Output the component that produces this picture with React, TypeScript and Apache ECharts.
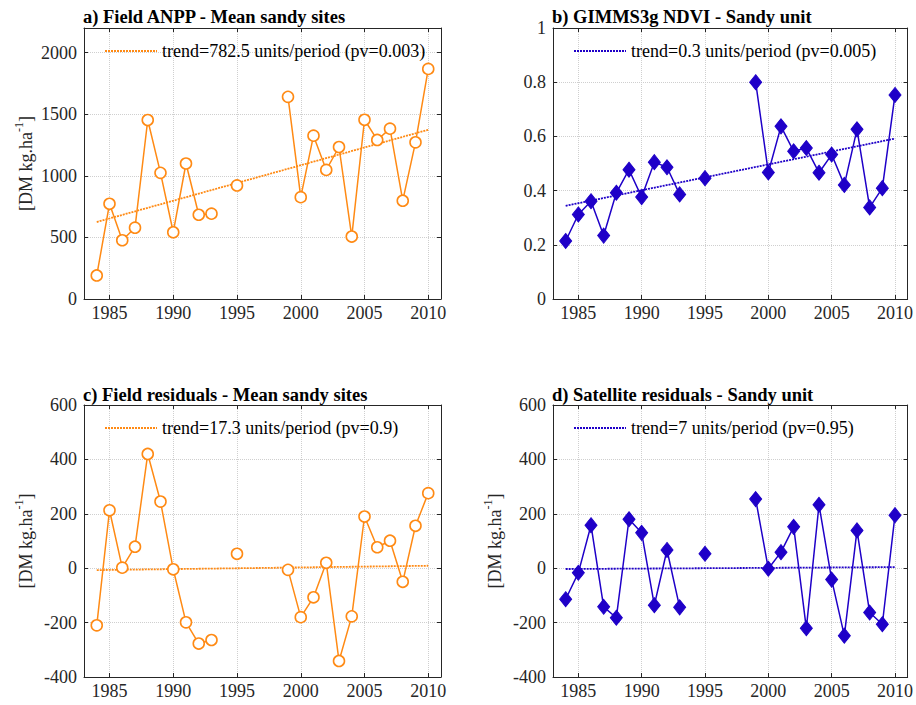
import React, { useEffect, useRef } from "react";
import * as echarts from "echarts";

const years = [1984, 1985, 1986, 1987, 1988, 1989, 1990, 1991, 1992, 1993, 1994, 1995, 1996, 1997, 1998, 1999, 2000, 2001, 2002, 2003, 2004, 2005, 2006, 2007, 2008, 2009, 2010];

const fieldAnpp = [191, 773, 477, 579, 1453, 1024, 542, 1100, 684, 693, null, 922, null, null, null, 1641, 827, 1326, 1048, 1234, 507, 1455, 1291, 1383, 798, 1272, 1868];
const gimmsNdvi = [0.214, 0.312, 0.361, 0.234, 0.392, 0.477, 0.376, 0.505, 0.486, 0.386, null, 0.446, null, null, null, 0.8, 0.467, 0.637, 0.545, 0.557, 0.466, 0.533, 0.421, 0.626, 0.338, 0.409, 0.753];
const fieldResiduals = [-210, 213, 2, 79, 420, 245, -4, -199, -277, -264, null, 53, null, null, null, -6, -180, -107, 20, -341, -177, 190, 77, 101, -50, 156, 276];
const satResiduals = [-114, -17, 158, -142, -182, 180, 130, -136, 67, -144, null, 53, null, null, null, 254, -2, 59, 152, -221, 233, -42, -248, 139, -163, -206, 195];

const trendYears = [1984, 2010];
const trendA = [625, 1374];
const trendB = [0.344, 0.592];
const trendC = [-7, 9];
const trendD = [-3, 4];

const titles = [
  "a) Field ANPP - Mean sandy sites",
  "b) GIMMS3g NDVI - Sandy unit",
  "c) Field residuals - Mean sandy sites",
  "d) Satellite residuals - Sandy unit",
];
const trendLabels = [
  "trend=782.5 units/period (pv=0.003)",
  "trend=0.3 units/period (pv=0.005)",
  "trend=17.3 units/period (pv=0.9)",
  "trend=7 units/period (pv=0.95)",
];
const yRanges = [
  { min: 0, max: 2200, interval: 500 },
  { min: 0, max: 1, interval: 0.2 },
  { min: -400, max: 600, interval: 200 },
  { min: -400, max: 600, interval: 200 },
];
const yUnit = "[DM kg.ha";

const ORANGE = "#ff8a14";
const BLUE = "#1f00c8";
const FONT = "'Liberation Serif', 'Times New Roman', 'DejaVu Serif', serif";
const AX = "#262626";

export default function App() {
  const ref = useRef<HTMLDivElement>(null);
  useEffect(() => {
    const chart = echarts.init(ref.current!, null, { renderer: "svg" });
    const grids = [
      { left: 84, top: 28, width: 357, height: 271 },
      { left: 553, top: 28, width: 355, height: 271 },
      { left: 84, top: 405, width: 357, height: 272 },
      { left: 553, top: 405, width: 355, height: 272 },
    ];
    const values = [fieldAnpp, gimmsNdvi, fieldResiduals, satResiduals];
    const trends = [trendA, trendB, trendC, trendD];
    const colors = [ORANGE, BLUE, ORANGE, BLUE];
    const showName = [true, false, true, true];
    const xAxes: any[] = [];
    const yAxes: any[] = [];
    const series: any[] = [];
    const legends: any[] = [];
    const titleOpts: any[] = [];
    const fmt = (v: number) => String(Math.round(v * 1000) / 1000);
    grids.forEach((g, i) => {
      xAxes.push({
        type: "value", gridIndex: i, min: 1983, max: 2011, splitNumber: 5,
        axisLine: { show: true, onZero: false, lineStyle: { color: AX } },
        axisTick: { inside: true, length: 4, lineStyle: { color: AX } },
        axisLabel: { showMinLabel: false, showMaxLabel: false, fontFamily: FONT, fontSize: 18, color: AX, margin: 5, formatter: fmt },
        splitLine: { show: true, lineStyle: { type: "dotted", color: "#cfcfcf" } },
      });
      xAxes.push({
        type: "value", gridIndex: i, position: "top", min: 1983, max: 2011, splitNumber: 5,
        axisLine: { show: true, onZero: false, lineStyle: { color: AX } },
        axisTick: { inside: true, length: 4, lineStyle: { color: AX } },
        axisLabel: { show: false }, splitLine: { show: false },
      });
      const r = yRanges[i];
      yAxes.push({
        type: "value", gridIndex: i, min: r.min, max: r.max, interval: r.interval,
        axisLine: { show: true, onZero: false, lineStyle: { color: AX } },
        axisTick: { show: true, inside: true, length: 4, lineStyle: { color: AX } },
        axisLabel: { showMaxLabel: i !== 0, fontFamily: FONT, fontSize: 18, color: AX, margin: 7, formatter: fmt },
        splitLine: { show: true, lineStyle: { type: "dotted", color: "#cfcfcf" } },
        name: showName[i] ? "{n|" + yUnit + "}{s|-1}{n|]}" : "",
        nameLocation: "middle", nameRotate: 90, nameGap: 49,
        nameTextStyle: {
          rich: {
            n: { fontFamily: FONT, fontSize: 18, color: AX, lineHeight: 22, verticalAlign: "bottom" },
            s: { fontFamily: FONT, fontSize: 12, color: AX, lineHeight: 22, verticalAlign: "top" },
          },
        },
      });
      yAxes.push({
        type: "value", gridIndex: i, position: "right", min: r.min, max: r.max, interval: r.interval,
        axisLine: { show: true, onZero: false, lineStyle: { color: AX } },
        axisTick: { show: true, inside: true, length: 4, lineStyle: { color: AX } },
        axisLabel: { show: false }, splitLine: { show: false },
      });
      const isBlue = i % 2 === 1;
      series.push({
        type: "line", name: "data" + i, xAxisIndex: 2 * i, yAxisIndex: 2 * i,
        data: years.map((y, k) => [y, values[i][k]]),
        connectNulls: false,
        lineStyle: { color: colors[i], width: 1.5 },
        symbol: isBlue ? "diamond" : "circle",
        symbolSize: isBlue ? [12, 15] : 11,
        showAllSymbol: true,
        itemStyle: isBlue
          ? { color: BLUE, borderColor: BLUE, borderWidth: 1 }
          : { color: "#ffffff", borderColor: ORANGE, borderWidth: 1.6 },
        z: 3,
      });
      series.push({
        type: "line", name: trendLabels[i], xAxisIndex: 2 * i, yAxisIndex: 2 * i,
        data: trendYears.map((y, k) => [y, trends[i][k]]),
        symbol: "none",
        lineStyle: { color: colors[i], width: 1.8, type: [2, 1] },
        itemStyle: { color: colors[i] },
        z: 2,
      });
      legends.push({
        data: [trendLabels[i]],
        left: i % 2 === 0 ? 104 : 573,
        top: i < 2 ? 42 : 419,
        padding: 0,
        itemWidth: 52, itemHeight: 18, itemGap: 0,
        itemStyle: { opacity: 0 },
        textStyle: { fontFamily: FONT, fontSize: 18, color: "#000" },
        selectedMode: false,
      });
      titleOpts.push({
        text: titles[i],
        left: g.left - 1,
        top: i < 2 ? 7 : 385,
        padding: 0,
        textStyle: { fontFamily: FONT, fontSize: 18.5, fontWeight: "bold", color: "#000" },
      });
    });
    chart.setOption({
      animation: false,
      backgroundColor: "#ffffff",
      title: titleOpts,
      legend: legends,
      grid: grids,
      xAxis: xAxes,
      yAxis: yAxes,
      series,
    });
    return () => chart.dispose();
  }, []);
  return <div ref={ref} style={{ position: "absolute", left: 0, top: 0, width: 916, height: 705 }} />;
}
